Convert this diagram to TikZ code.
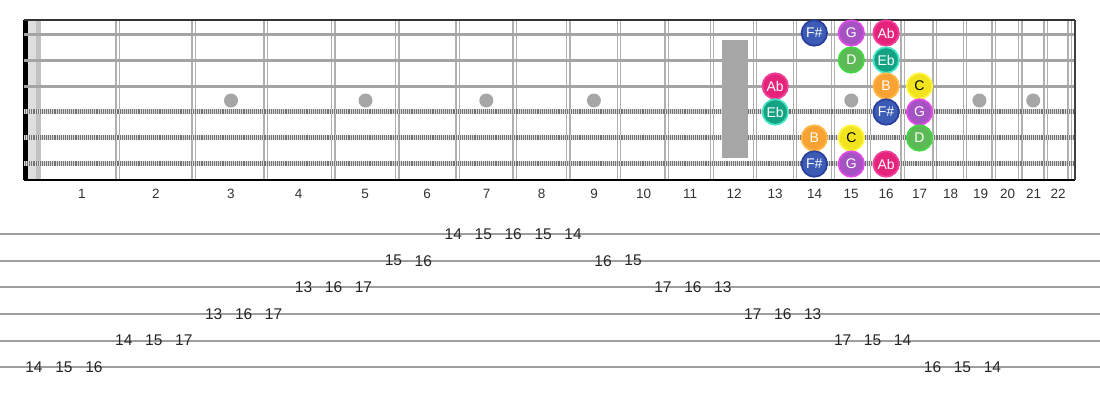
\documentclass[tikz,border=0pt]{standalone}
\usepackage{fontspec}
\setmainfont{Liberation Sans}
\definecolor{fsF}{HTML}{3B5BB5}\definecolor{fsB}{HTML}{2B3F9F}
\definecolor{gF}{HTML}{A553C3}\definecolor{gB}{HTML}{E24AE8}
\definecolor{abF}{HTML}{E5237A}\definecolor{abB}{HTML}{F0409A}
\definecolor{dF}{HTML}{5DB955}\definecolor{dB}{HTML}{45D845}
\definecolor{ebF}{HTML}{13A383}\definecolor{ebB}{HTML}{45E5C5}
\definecolor{bF}{HTML}{F7A233}\definecolor{bB}{HTML}{FFB84A}
\definecolor{cF}{HTML}{F2E31F}\definecolor{cB}{HTML}{FFF545}
\definecolor{strgray}{HTML}{A4A4A4}
\definecolor{fretgray}{HTML}{B0B0B0}
\definecolor{dotgray}{HTML}{A6A6A6}
\definecolor{tabline}{HTML}{9E9E9E}
\definecolor{txt}{HTML}{333333}
\begin{document}
\begin{tikzpicture}[x=1pt,y=-1pt,
  fretline/.style={draw=fretgray,line width=1.4pt,double=white,double distance=2pt},
  plainstr/.style={draw=strgray,line width=3pt},
  woundstr/.style={draw=black!55,line width=5pt},
  woundtex/.style={draw=white!70!gray,line width=5pt,dash pattern=on 1pt off 1.1pt},
  inlay/.style={circle,fill=dotgray,inner sep=0pt,minimum size=14pt},
  note/.style n args={3}{circle,fill=#1,draw=#2,line width=1.7pt,inner sep=0pt,
     minimum size=25.5pt,text=#3,font=\fontsize{14}{16}\selectfont},
  fretnum/.style={text=txt,font=\fontsize{13.5}{15}\selectfont},
  tabnum/.style={text=black!85,font=\fontsize{15.5}{17}\selectfont,inner sep=0pt}]
\useasboundingbox (0,0) rectangle (1100,400);
% nut band
\fill[black!13] (28,20) rectangle (41,180);
\fill[black!24] (36,20) rectangle (41,180);
\fill[black] (23,20) rectangle (27.5,180);
% frets
\foreach \n in {1,...,22}{
  \pgfmathsetmacro\xf{37.5+1435*(1-pow(2,-\n/12))}
  \coordinate (ft\n) at (\xf,20);
  \coordinate (fb\n) at (\xf,180);
  \draw[fretline] (ft\n) -- (fb\n);
}
% strings
\foreach \y [count=\i] in {34,60,86}{
  \coordinate (sl\i) at (24,\y); \coordinate (sr\i) at (1075,\y);
  \draw[plainstr] (sl\i) -- (sr\i);
}
\foreach \y [count=\i from 4] in {111,137,163}{
  \coordinate (sl\i) at (24,\y); \coordinate (sr\i) at (1075,\y);
  \draw[woundstr] (sl\i) -- (sr\i);
  \draw[woundtex] (sl\i) -- (sr\i);
}
% frame
\coordinate (tl) at (24,20); \coordinate (tr) at (1075,20);
\coordinate (bl) at (24,180); \coordinate (br) at (1075,180);
\draw[black!80,line width=2pt] (tl) -- (tr);
\draw[black,line width=2pt] (bl) -- (br);
\draw[black!75,line width=2pt] (tr) -- (br);
% inlays
\foreach \x [count=\i] in {231,365.5,486.3,593.9,851.3,979.4,1033.2}
  \node[inlay] (dot\i) at (\x,100.5) {};
\fill[dotgray] (722,40) rectangle (748,158);
% fret numbers
\foreach \x [count=\i] in {82,156,231,298.5,365,427,486.5,541.5,594,643.5,690,734,775,814.5,851,886,919.5,950.5,980.5,1007.5,1033.5,1058}
  \node[fretnum] (fn\i) at (\x,194) {\i};
% notes
\node[note={fsF}{fsB}{white}] (n1a) at (814.3,33) {F\#};
\node[note={gF}{gB}{white}]   (n1b) at (851.3,33) {G};
\node[note={abF}{abB}{white}] (n1c) at (886.1,33) {Ab};
\node[note={dF}{dB}{white}]   (n2a) at (851.3,60) {D};
\node[note={ebF}{ebB}{white}] (n2b) at (886.1,60) {Eb};
\node[note={abF}{abB}{white}] (n3a) at (775.2,86) {Ab};
\node[note={bF}{bB}{white}]   (n3b) at (886.1,86) {B};
\node[note={cF}{cB}{black}]   (n3c) at (919.5,86) {C};
\node[note={ebF}{ebB}{white}] (n4a) at (775.2,112) {Eb};
\node[note={fsF}{fsB}{white}] (n4b) at (886.1,112) {F\#};
\node[note={gF}{gB}{white}]   (n4c) at (919.5,112) {G};
\node[note={bF}{bB}{white}]   (n5a) at (814.3,138) {B};
\node[note={cF}{cB}{black}]   (n5b) at (851.3,138) {C};
\node[note={dF}{dB}{white}]   (n5c) at (919.5,138) {D};
\node[note={fsF}{fsB}{white}] (n6a) at (814.3,164) {F\#};
\node[note={gF}{gB}{white}]   (n6b) at (851.3,164) {G};
\node[note={abF}{abB}{white}] (n6c) at (886.1,164) {Ab};
% tab lines
\foreach \y [count=\i] in {234,260.7,287.3,314,340.7,367.3}{
  \coordinate (tabl\i) at (0,\y); \coordinate (tabr\i) at (1100,\y);
  \draw[tabline,line width=1.8pt] (tabl\i) -- (tabr\i);
}
% tab numbers: k / row / label
\foreach \k/\r/\t in {0/6/14,1/6/15,2/6/16,3/5/14,4/5/15,5/5/17,6/4/13,7/4/16,8/4/17,
  9/3/13,10/3/16,11/3/17,12/2/15,13/2/16,14/1/14,15/1/15,16/1/16,17/1/15,18/1/14,
  19/2/16,20/2/15,21/3/17,22/3/16,23/3/13,24/4/17,25/4/16,26/4/13,27/5/17,28/5/15,
  29/5/14,30/6/16,31/6/15,32/6/14}{
  \pgfmathsetmacro\xt{34+29.95*\k}
  \pgfmathsetmacro\yt{234+26.66*(\r-1)}
  \node[tabnum] (tn\k) at (\xt,\yt) {\t};
}
\end{tikzpicture}
\end{document}
